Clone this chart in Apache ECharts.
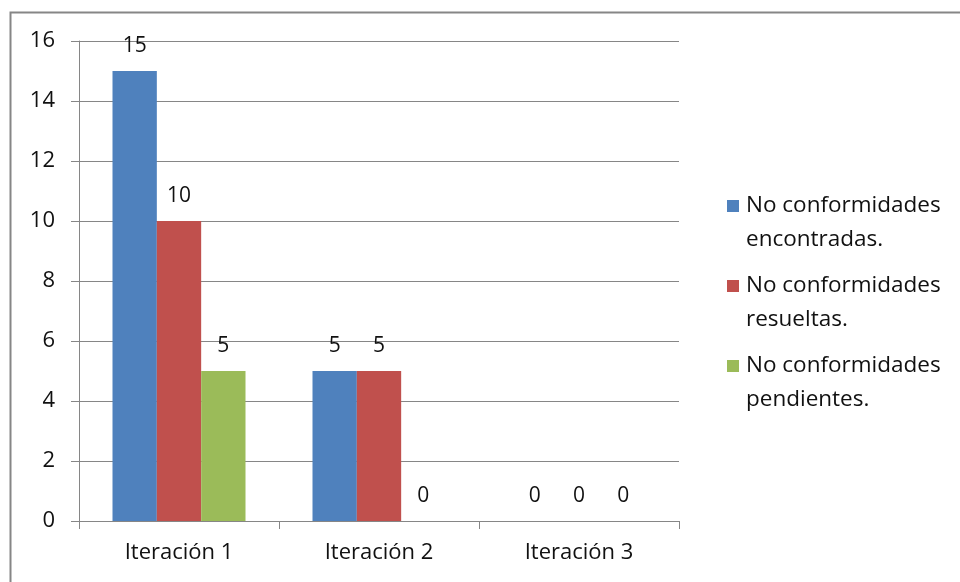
<!DOCTYPE html>
<html>
<head>
<meta charset="utf-8">
<script src="https://cdn.jsdelivr.net/npm/echarts@6/dist/echarts.min.js"></script>
<style>
  html, body { margin: 0; padding: 0; background: #fff; }
  #chart { width: 960px; height: 582px; }
</style>
</head>
<body>
<div id="chart"></div>
<script>
// Categories and series values
const categories = ['Iteración 1', 'Iteración 2', 'Iteración 3'];
const seriesNames = ['No conformidades encontradas.', 'No conformidades resueltas.', 'No conformidades pendientes.'];
const encontradas = [15, 5, 0];
const resueltas = [10, 5, 0];
const pendientes = [5, 0, 0];
const yTicks = [0, 2, 4, 6, 8, 10, 12, 14, 16];

const colors = ['#4F81BD', '#C0504D', '#9BBB59'];
const FONT = 'Open Sans';
const TEXT = '#111111';

const chart = echarts.init(document.getElementById('chart'), null, { renderer: 'canvas' });

function barSeries(name, data, color) {
  return {
    name: name,
    type: 'bar',
    data: data,
    barGap: '0%',
    barCategoryGap: '33.5%',
    itemStyle: { color: color },
    label: {
      show: true,
      position: 'top',
      distance: 14,
      color: TEXT,
      fontFamily: FONT,
      fontSize: 21
    },
    emphasis: { disabled: true },
    animation: false
  };
}

chart.setOption({
  animation: false,
  backgroundColor: '#ffffff',
  textStyle: { fontFamily: FONT },
  graphic: [{
    type: 'rect',
    shape: { x: 10.5, y: 12.5, width: 1000, height: 1000 },
    style: { fill: 'none', stroke: '#868686', lineWidth: 2 },
    silent: true,
    z: -10
  }],
  grid: { left: 79, right: 281, top: 41, bottom: 61 },
  legend: {
    orient: 'vertical',
    left: 722,
    top: 184,
    itemWidth: 12,
    itemHeight: 68,
    itemGap: 12,
    // square marker sits beside the first text line
    icon: 'path://M0 0h0.001v0.001H0z M0 11h12v12H0z M0 68h0.001v0.001H0z',
    formatter: function (name) {
      return name.replace('No conformidades ', 'No conformidades\n');
    },
    textStyle: {
      color: TEXT,
      fontFamily: FONT,
      fontSize: 22.5,
      lineHeight: 34,
      padding: [0, 0, 0, 2]
    },
    selectedMode: false,
    data: seriesNames
  },
  xAxis: {
    type: 'category',
    data: categories,
    axisLine: { lineStyle: { color: '#868686', width: 1 } },
    axisTick: { show: true, length: 8, alignWithLabel: false, lineStyle: { color: '#868686' } },
    axisLabel: { color: TEXT, fontFamily: FONT, fontSize: 22, margin: 21 }
  },
  yAxis: {
    type: 'value',
    min: 0,
    max: 16,
    interval: 2,
    axisLine: { show: true, lineStyle: { color: '#868686', width: 1 } },
    axisTick: { show: true, length: 8, lineStyle: { color: '#868686' } },
    splitLine: { lineStyle: { color: '#868686', width: 1 } },
    axisLabel: {
      color: TEXT, fontFamily: FONT, fontSize: 22, margin: 24,
      formatter: function (v) { return yTicks.indexOf(v) >= 0 ? String(v) : ''; }
    }
  },
  series: [
    barSeries(seriesNames[0], encontradas, colors[0]),
    barSeries(seriesNames[1], resueltas, colors[1]),
    barSeries(seriesNames[2], pendientes, colors[2])
  ]
});
</script>
</body>
</html>
